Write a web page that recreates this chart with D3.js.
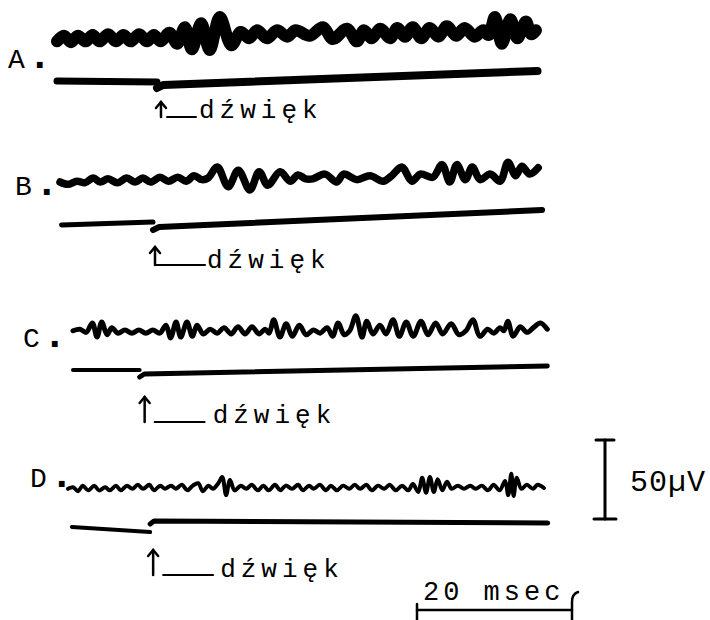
<!DOCTYPE html>
<html>
<head>
<meta charset="utf-8">
<script src="https://cdn.jsdelivr.net/npm/d3@7"></script>
<style>
  body { margin: 0; background: #fff; }
  text { font-family: "Courier New", "Liberation Mono", monospace; fill: #000; }
</style>
</head>
<body>
<div id="chart"></div>
<script>
// records: [time from sweep start (ms), potential (µV)]
var traceA = [[0,-1.5],[0.9,2],[1.8,-2],[2.7,2],[3.7,-1.5],[4.6,2.5],[5.5,-1.5],[6.6,3],[7.6,-1.5],[8.6,2.5],
  [9.5,-1.5],[10.6,3],[11.6,-1.5],[12.5,2.5],[13.4,-1.5],[14.5,4],[15.5,-3],[16.5,7.5],[17.4,-6.5],[18.6,10],
  [19.7,-7],[21.0,14],[22.5,-4],[23.7,4.5],[24.8,0.5],[25.8,5.5],[27.1,0.5],[28.4,5.5],[29.7,1.5],[30.8,5.5],
  [32.6,2],[34.3,7.5],[35.6,0],[37.4,6.5],[38.7,-1.5],[39.6,5.5],[40.6,0.5],[41.7,6.5],[43.0,0.5],[43.9,7],
  [44.9,1.5],[45.9,7.5],[47.0,0.5],[48.1,7],[49.2,1.5],[50.3,8],[51.5,2],[52.6,7],[53.9,1.5],[55.0,5.5],
  [55.7,2.5],[56.5,14],[57.4,-3],[58.5,12.5],[59.4,0.5],[60.5,11],[61.2,3],[61.8,5.5]];

var traceB = [[0,0],[1.0,-1.5],[2.2,0.5],[3.2,-0.5],[4.3,2.5],[5.2,0],[6.2,2],[7.4,-0.5],[8.6,2.5],[9.7,0],
  [10.7,2.5],[11.7,0],[12.9,3],[14.0,0.5],[15.2,3],[16.3,0.5],[17.3,4],[18.3,1.5],[19.1,2.5],[20.3,9.5],
  [21.7,-3],[23.0,7.5],[24.5,-5],[25.7,6.5],[26.8,-2],[28.4,6.5],[29.7,0.5],[30.7,4.5],[31.7,2],[32.6,2],
  [34.2,5],[35.7,0],[36.6,5],[38.3,1.5],[40.0,4],[41.7,0.5],[42.8,4],[44.1,9.5],[45.4,0.5],[46.5,5],
  [48.1,3],[49.3,11],[50.3,0],[51.2,11],[52.3,1.5],[53.2,9.5],[54.2,1.5],[55.5,5],[56.8,0.5],[57.8,12.5],
  [58.8,4],[59.6,10],[60.6,5],[61.7,9]];

var traceC = [[0,-0.5],[0.9,0.5],[1.7,-1.5],[2.5,4.5],[3.1,-4.5],[3.7,5],[4.4,-3],[5.0,1.5],[5.8,-2],[6.7,0],
  [7.6,-2],[8.5,0],[9.4,-2],[10.3,0],[11.2,-2],[12.0,3],[12.6,-5],[13.3,5],[13.9,-4.5],[14.7,5],
  [15.4,-4],[16.0,3],[16.8,-2.5],[17.7,0.5],[18.6,-2],[19.5,1.5],[20.4,-2.5],[21.3,2],[22.2,-2.5],[23.1,2],
  [24.0,-2.5],[24.8,0.5],[25.3,-2],[25.9,6.5],[26.7,-4.5],[27.5,4],[28.3,-4],[29.2,3],[30.1,-3],[31.0,0],
  [31.9,-2],[32.8,1.5],[33.5,-4],[34.2,4.5],[35.0,-3],[35.7,-0.5],[36.5,9],[37.3,-4.5],[37.9,5.5],[38.7,-2.5],
  [39.6,3],[40.4,-2.5],[41.3,6.5],[42.1,-4],[43.0,5],[43.9,-4],[44.9,5.5],[45.8,-3],[46.8,4.5],[47.7,-2.5],
  [48.8,4],[49.8,-3],[50.7,-0.5],[51.6,6.5],[52.5,-4],[53.5,0.5],[54.3,-2],[55.1,1.5],[55.6,-0.5],[56.1,5.5],
  [56.8,-4],[57.7,2],[58.6,-1.5],[59.4,1.5],[60.3,4.5],[61.2,0.5]];

var traceD = [[0,-0.5],[0.65,0.5],[1.3,-2],[1.9,1.5],[2.6,-1.5],[3.4,1.5],[4.0,-1.5],[4.8,0.5],[5.4,-1.5],[6.2,1.5],
  [6.8,-1.5],[7.6,1.5],[8.3,-0.5],[9.0,2],[9.7,-0.5],[10.5,2],[11.1,-1.5],[11.9,1.5],[12.5,-0.5],[13.3,1.5],
  [13.9,-0.5],[14.7,2],[15.4,-1.5],[16.1,1.5],[16.8,3],[17.4,-2],[18.1,1.5],[18.7,-0.5],[19.4,3],[19.9,7],
  [20.4,-4.5],[20.9,5],[21.5,-1.5],[22.3,1.5],[23.0,-0.5],[23.7,2],[24.5,-1.5],[25.2,1.5],[25.9,-1.5],[26.7,2],
  [27.4,-1.5],[28.1,1.5],[28.9,-0.5],[29.7,2],[30.3,-1.5],[31.1,1.5],[31.7,-0.5],[32.5,2],[33.3,-1.5],[33.9,1.5],
  [34.7,-1.5],[35.5,1.5],[36.3,-0.5],[37.0,2],[37.7,-0.5],[38.5,2],[39.2,-1.5],[40.0,1.5],[40.8,-0.5],[41.5,2],
  [42.3,-1.5],[43.1,1.5],[43.9,-1.5],[44.5,2.5],[45.2,-2.5],[45.7,6.5],[46.2,-3],[46.7,7],[47.2,-2.5],[47.7,5.5],
  [48.3,-1.5],[48.9,4],[49.5,-0.5],[50.3,1.5],[51.1,-0.5],[51.9,1.5],[52.6,-0.5],[53.4,1.5],[54.2,-1.5],[54.9,2],
  [55.7,-1.5],[56.4,4.5],[56.8,-4.5],[57.2,9],[57.5,-5],[57.9,6.5],[58.5,-0.5],[59.2,2],[60.0,-0.5],[60.6,2],[61.4,0]];

var labels = ["A", "B", "C", "D"];
var sweepMs = [62, 62.2, 61.2, 61.9];     // length of each sweep
var onsetMs = [12.9, 12.0, 8.6, 10.6];    // sound onset on the marker line
var stimText = "dźwięk";
var barMs = 20, barUV = 50;
var barLabels = ["20 msec", "50µV"];

var width = 710, height = 620;

// 20 ms = 155 px, 50 µV = 79 px on the original print
var x = d3.scaleLinear().domain([0, barMs]).range([0, 155]);
var y = d3.scaleLinear().domain([0, barUV]).range([0, -79]);

// where each record sits on the page
var panels = [
  {data: traceA, x0: 57, y0: 39, w: 12, lx: 8,  ly: 68,
   mk: {t0: 0,   l0: 42, l1: 43, r0: 49, r1: 32, w: 8, notch: 0.8},
   ar: {dx: 4, top: 63, bot: 78, u0: 6,  u1: 35, tx: 38, ty: 79, bent: false}},
  {data: traceB, x0: 60, y0: 182, w: 7.5, lx: 15, ly: 195,
   mk: {t0: 0.2, l0: 43, l1: 40, r0: 48, r1: 28, w: 6, notch: 0.8},
   ar: {dx: 2, top: 65, bot: 83, u0: 0,  u1: 50, tx: 52, ty: 86, bent: true}},
  {data: traceC, x0: 73, y0: 330, w: 5, lx: 23, ly: 347,
   mk: {t0: 0,   l0: 40, l1: 40, r0: 47, r1: 36, w: 5, notch: 0.6},
   ar: {dx: 5, top: 67, bot: 92, u0: 10, u1: 60, tx: 68, ty: 93, bent: false}},
  {data: traceD, x0: 68, y0: 488, w: 4, lx: 30, ly: 487,
   mk: {t0: 0.5, l0: 39, l1: 44, r0: 36, r1: 35, w: 5, notch: 0.5},
   ar: {dx: 3, top: 62, bot: 87, u0: 10, u1: 60, tx: 67, ty: 89, bent: false}}
];

var svg = d3.select("#chart").append("svg")
    .attr("width", width)
    .attr("height", height);

var line = d3.line()
    .x(d => x(d[0]))
    .y(d => y(d[1]))
    .curve(d3.curveCatmullRom.alpha(0.5));

panels.forEach(function(p, i) {
    var g = svg.append("g")
        .attr("transform", `translate(${p.x0}, ${p.y0})`);

    // the record itself
    g.append("path")
        .datum(p.data)
        .attr("d", line)
        .attr("fill", "none")
        .attr("stroke", "#000")
        .attr("stroke-width", p.w)
        .attr("stroke-linecap", "round")
        .attr("stroke-linejoin", "round");

    // stimulus marker line, broken at the onset
    var m = p.mk, on = onsetMs[i], end = sweepMs[i];
    var seg = d3.line().x(d => x(d[0])).y(d => d[1]);
    g.append("path")
        .attr("d", seg([[m.t0, m.l0], [on, m.l1]]))
        .attr("fill", "none").attr("stroke", "#000")
        .attr("stroke-width", m.w - 1).attr("stroke-linecap", "round");
    g.append("path")
        .attr("d", seg([[on, m.r0], [on + m.notch, m.r0 - 3], [end, m.r1]]))
        .attr("fill", "none").attr("stroke", "#000")
        .attr("stroke-width", m.w).attr("stroke-linecap", "round")
        .attr("stroke-linejoin", "round");

    // arrow at onset + "dźwięk"
    var a = p.ar, ax = x(on) + a.dx;
    var arr = g.append("g").attr("fill", "none").attr("stroke", "#000")
        .attr("stroke-width", 2.5).attr("stroke-linecap", "round");
    arr.append("path").attr("d", `M${ax},${a.top} V${a.bot}`);
    arr.append("path").attr("d", `M${ax - 5},${a.top + 6} L${ax},${a.top} L${ax + 5},${a.top + 6}`);
    arr.append("path").attr("d", `M${ax + a.u0},${a.bot} H${ax + a.u1}`)
        .attr("stroke-width", 2);

    g.append("text")
        .attr("x", ax + a.tx)
        .attr("y", a.ty)
        .style("font-size", "26px")
        .style("letter-spacing", "5px")
        .text(stimText);

    // panel letter with the heavy typewriter full stop
    var lab = svg.append("text")
        .attr("x", p.lx)
        .attr("y", p.ly)
        .style("font-size", "28px")
        .style("letter-spacing", "3px");
    lab.append("tspan").text(labels[i]);
    lab.append("tspan")
        .style("font-size", "40px")
        .style("font-weight", "bold")
        .text(".");
});

// calibration: 50 µV
var cal = svg.append("g").attr("transform", "translate(605, 440)")
    .attr("fill", "none").attr("stroke", "#000").attr("stroke-width", 3)
    .attr("stroke-linecap", "round");
var h = -y(barUV);
cal.append("path").attr("d", `M0,0 V${h}`);
cal.append("path").attr("d", `M-9,0 H9`);
cal.append("path").attr("d", `M-11,${h} H11`);
svg.append("text")
    .attr("x", 630).attr("y", 491)
    .style("font-size", "30px")
    .style("letter-spacing", "1px")
    .text(barLabels[1]);

// time bar: 20 msec
var tb = svg.append("g").attr("transform", "translate(417, 610)")
    .attr("fill", "none").attr("stroke", "#000").attr("stroke-width", 2.5)
    .attr("stroke-linecap", "round");
var wBar = x(barMs);
tb.append("path").attr("d", `M0,0 H${wBar}`);
tb.append("path").attr("d", `M0,-6 V12`);
tb.append("path").attr("d", `M${wBar},12 V-8 Q${wBar},-16 ${wBar + 6},-18`);
svg.append("text")
    .attr("x", 423).attr("y", 600)
    .style("font-size", "27px")
    .style("letter-spacing", "4px")
    .text(barLabels[0]);
</script>
</body>
</html>
